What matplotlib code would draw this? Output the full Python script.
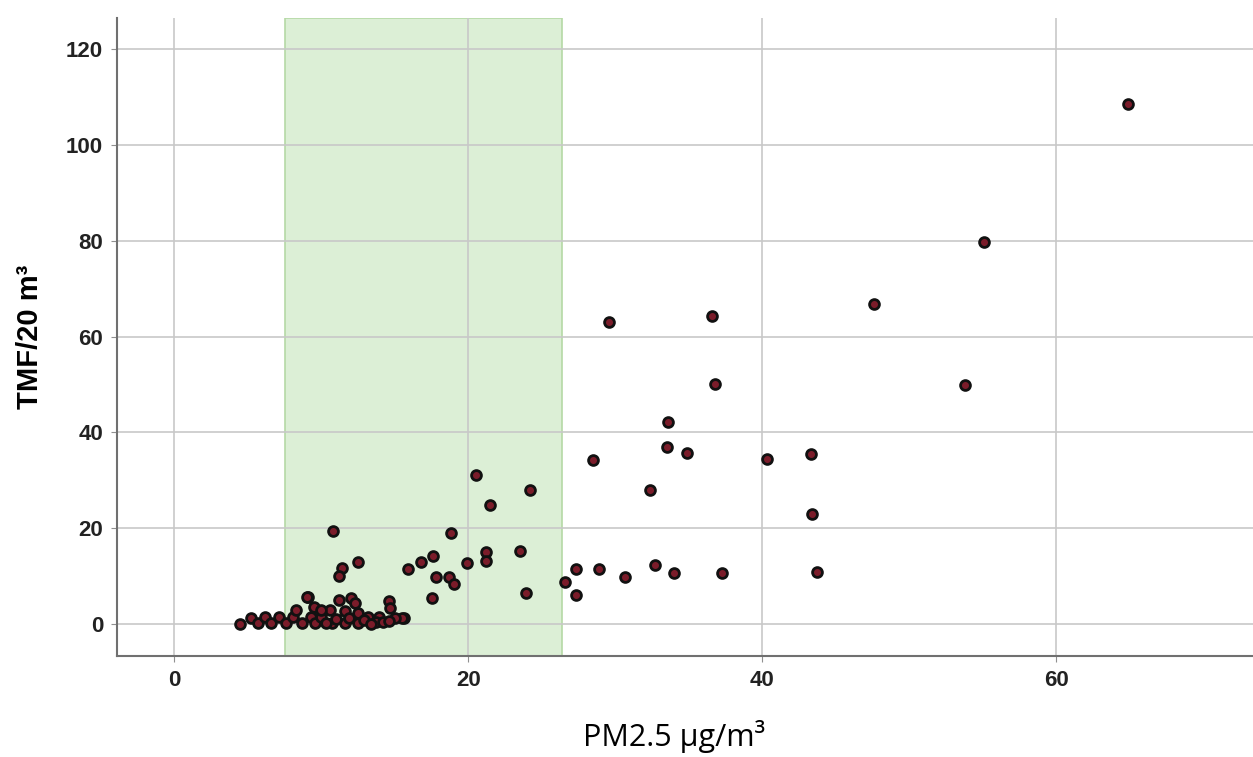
import matplotlib.pyplot as plt

# PM2.5 (x) and TMF/20 m3 (y)
pm25 = [
    64.9, 55.1, 47.6, 53.8,
    29.6, 36.6, 36.8, 33.6, 33.5, 34.9, 28.5, 40.3, 43.3, 32.4, 43.4,
    27.3, 28.9, 30.7, 32.7, 34.0, 37.3, 43.7, 26.6, 27.3,
    20.5, 24.2, 21.5, 18.8, 21.2, 21.2, 23.5, 17.6, 16.8, 15.9, 19.9,
    17.8, 18.7, 19.0, 17.5, 23.9, 15.6,
    10.8, 12.5, 11.4, 11.2, 9.1, 11.2, 12.0, 14.6,
    12.3, 14.7, 15.5, 15.0, 10.6, 11.6, 12.5, 13.2, 13.9, 10.7, 11.6, 12.5, 13.7,
    4.5, 5.2, 5.7, 6.2, 6.6, 7.1, 7.6, 8.1, 8.3, 9.0, 8.7, 9.3, 9.5, 9.6, 10.0,
    10.3, 10.0, 11.0, 11.9, 12.9, 14.2, 14.6, 13.4,
]
tmf = [
    108.6, 79.8, 66.8, 49.8,
    63.1, 64.3, 50.1, 42.2, 37.0, 35.6, 34.2, 34.4, 35.5, 28.0, 23.0,
    11.5, 11.5, 9.9, 12.3, 10.6, 10.7, 10.9, 8.7, 6.1,
    31.1, 28.0, 24.8, 18.9, 15.1, 13.2, 15.2, 14.2, 12.9, 11.5, 12.7,
    9.9, 9.9, 8.4, 5.4, 6.4, 1.3,
    19.5, 13.0, 11.6, 10.0, 5.7, 5.0, 5.4, 4.7,
    4.4, 3.3, 1.2, 1.2, 2.9, 2.6, 2.3, 1.5, 1.5, 0.2, 0.2, 0.2, 0.5,
    0.0, 1.2, 0.2, 1.5, 0.2, 1.5, 0.2, 1.5, 2.9, 5.7, 0.2, 1.5, 3.6, 0.2, 1.5,
    0.2, 2.9, 1.0, 1.2, 0.8, 0.3, 0.6, 0.0,
]

band_lo, band_hi = 7.5, 26.4
xticks = [0, 20, 40, 60]
yticks = [0, 20, 40, 60, 80, 100, 120]

fig = plt.figure(figsize=(12.53, 7.57), dpi=100)
ax = fig.add_axes([0.0934, 0.1334, 0.9066, 0.8428])

ax.axvspan(band_lo, band_hi, facecolor="#dcefd6", edgecolor="#b5d9a5", linewidth=1.2, zorder=0)

ax.set_axisbelow(True)
ax.grid(True, color="#c8c8c8", linewidth=1.2)
ax.scatter(pm25, tmf, s=50, c="#7b1c2a", edgecolors="#111111", linewidths=2.0, zorder=3)

ax.set_xlim(-3.9, 73.4)
ax.set_ylim(-6.7, 126.5)
ax.set_xticks(xticks)
ax.set_yticks(yticks)

for side in ["top", "right"]:
    ax.spines[side].set_visible(False)
for side in ["left", "bottom"]:
    ax.spines[side].set_color("#707070")
    ax.spines[side].set_linewidth(1.5)

ax.tick_params(length=4, color="#909090", labelsize=16, pad=6)
for lab in ax.get_xticklabels() + ax.get_yticklabels():
    lab.set_fontfamily("Liberation Sans")
    lab.set_fontweight("bold")
    lab.set_color("#222222")

ax.set_ylabel("TMF/20 m³", fontsize=21, fontweight="bold", family="Liberation Sans", labelpad=16)
ax.set_xlabel("PM2.5 µg/m³", fontsize=22, family="Open Sans", labelpad=24)
ax.xaxis.set_label_coords(0.49, -0.1)

fig.savefig("out.png", dpi=100)
